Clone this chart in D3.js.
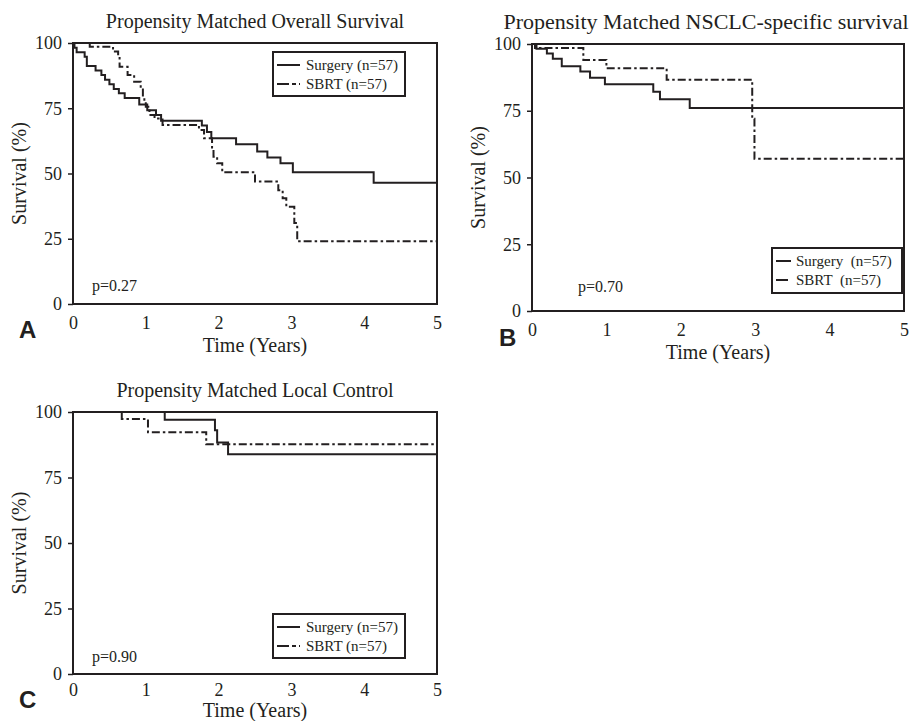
<!DOCTYPE html>
<html>
<head>
<meta charset="utf-8">
<script src="https://cdn.jsdelivr.net/npm/d3@7"></script>
<style>
  body { margin: 0; background: #fff; }
  text { font-family: "Liberation Serif", "Times New Roman", serif; fill: #231f20; }
  .letter { font-family: "Liberation Sans", Arial, sans-serif; font-weight: bold; }
</style>
</head>
<body>
<svg id="chart" width="916" height="721"></svg>
<script>
// tick values
var xTicks = [0, 1, 2, 3, 4, 5];
var yTicks = [0, 25, 50, 75, 100];

// A - overall survival (time in years, survival in %)
var osSurgeryTime = [0.02, 0.05, 0.16, 0.19, 0.31, 0.39, 0.44, 0.50, 0.56, 0.63, 0.71, 0.91, 1.02, 1.14, 1.21, 1.77, 1.84, 1.90, 2.24, 2.53, 2.67, 2.85, 3.02, 4.13];
var osSurgerySurv = [98.2, 96.5, 94.7, 91.2, 89.5, 87.7, 85.9, 84.2, 82.4, 80.7, 78.9, 76.4, 74.2, 72.4, 70.2, 68.4, 65.9, 63.5, 61.2, 58.4, 56.1, 53.9, 50.5, 46.5];
var osSbrtTime = [0.23, 0.55, 0.62, 0.64, 0.75, 0.84, 0.93, 0.96, 0.98, 1.00, 1.05, 1.12, 1.23, 1.73, 1.80, 1.91, 1.93, 1.98, 2.05, 2.50, 2.82, 2.88, 2.93, 3.04, 3.08];
var osSbrtSurv = [98.6, 96.7, 94.8, 90.9, 87.7, 85.2, 82.6, 79.4, 77.9, 75.6, 72.4, 71.1, 68.6, 66.7, 63.5, 59.5, 56.4, 53.9, 50.5, 46.9, 43.6, 40.5, 37.3, 31.0, 24.0];

// B - NSCLC-specific survival
var cssSurgeryTime = [0.06, 0.20, 0.28, 0.40, 0.65, 0.78, 0.98, 1.63, 1.72, 2.12];
var cssSurgerySurv = [98.2, 96.4, 94.5, 91.7, 89.7, 87.4, 84.9, 82.1, 79.3, 76.0];
var cssSbrtTime = [0.04, 0.69, 1.00, 1.81, 2.96, 2.99];
var cssSbrtSurv = [98.5, 94.0, 90.9, 86.6, 72.0, 57.0];

// C - local control
var lcSurgeryTime = [1.26, 1.95, 1.98, 2.13];
var lcSurgerySurv = [97.0, 93.0, 88.4, 83.9];
var lcSbrtTime = [0.67, 1.03, 1.83];
var lcSbrtSurv = [97.3, 92.3, 87.7];

var seriesNames = ["Surgery (n=57)", "SBRT (n=57)"];
var seriesNamesB = ["Surgery\u00a0\u00a0(n=57)", "SBRT\u00a0\u00a0(n=57)"];
var pValues = ["p=0.27", "p=0.70", "p=0.90"];
var titles = ["Propensity Matched Overall Survival", "Propensity Matched NSCLC-specific survival", "Propensity Matched Local Control"];

function toSteps(times, survs) {
  var pts = [[0, 100]];
  times.forEach(function(t, i) { pts.push([t, survs[i]]); });
  pts.push([5, survs[survs.length - 1]]);
  return pts;
}

var panels = [
  {letter: "A", title: titles[0], p: pValues[0], names: seriesNames,
   left: 73, right: 437, top: 43, bottom: 304, tickPad: 12, xlab: 48,
   titleX: 255, titleSize: 20,
   surgery: toSteps(osSurgeryTime, osSurgerySurv), sbrt: toSteps(osSbrtTime, osSbrtSurv),
   legend: {x: 273, y: 52, w: 132, h: 44}, px: 92, py: 291, lx: 19, ly: 338},
  {letter: "B", title: titles[1], p: pValues[1], names: seriesNamesB,
   left: 532, right: 904, top: 44, bottom: 311, tickPad: 12, xlab: 48,
   titleX: 706, titleSize: 22,
   surgery: toSteps(cssSurgeryTime, cssSurgerySurv), sbrt: toSteps(cssSbrtTime, cssSbrtSurv),
   legend: {x: 772, y: 248, w: 130, h: 45}, px: 578, py: 292, lx: 499, ly: 346},
  {letter: "C", title: titles[2], p: pValues[2], names: seriesNames,
   left: 73, right: 437, top: 412, bottom: 674, tickPad: 9, xlab: 43,
   titleX: 255, titleSize: 20,
   surgery: toSteps(lcSurgeryTime, lcSurgerySurv), sbrt: toSteps(lcSbrtTime, lcSbrtSurv),
   legend: {x: 273, y: 614, w: 132, h: 44}, px: 92, py: 662, lx: 19, ly: 708}
];

var svg = d3.select("#chart");
var dash = "8,3,2.5,3";

panels.forEach(function(p) {
  var x = d3.scaleLinear().domain([0, 5]).range([p.left, p.right]);
  var y = d3.scaleLinear().domain([0, 100]).range([p.bottom, p.top]);
  var g = svg.append("g");

  // title
  g.append("text")
    .attr("x", p.titleX).attr("y", p.top - 15)
    .attr("text-anchor", "middle").attr("font-size", p.titleSize)
    .text(p.title);

  // y axis ticks and labels
  var ya = g.append("g").attr("transform", "translate(" + p.left + ",0)")
    .call(d3.axisLeft(y).tickValues(yTicks).tickFormat(d3.format("d")).tickSize(5).tickPadding(6));
  ya.select(".domain").remove();
  ya.selectAll(".tick line").attr("stroke", "#231f20").attr("stroke-width", 1.5);
  ya.selectAll(".tick text").attr("font-size", 18).attr("font-family", "Liberation Serif").attr("fill", "#231f20");

  // x axis labels (no tick marks in the original)
  var xa = g.append("g").attr("transform", "translate(0," + p.bottom + ")")
    .call(d3.axisBottom(x).tickValues(xTicks).tickFormat(d3.format("d")).tickSize(0).tickPadding(p.tickPad));
  xa.select(".domain").remove();
  xa.selectAll(".tick text").attr("font-size", 18).attr("font-family", "Liberation Serif").attr("fill", "#231f20");

  // axis titles
  g.append("text")
    .attr("x", (p.left + p.right) / 2).attr("y", p.bottom + p.xlab)
    .attr("text-anchor", "middle").attr("font-size", 20)
    .text("Time (Years)");
  g.append("text")
    .attr("transform", "translate(" + (p.left - 47) + "," + ((p.top + p.bottom) / 2) + ") rotate(-90)")
    .attr("text-anchor", "middle").attr("font-size", 20)
    .text("Survival (%)");

  // curves
  var line = d3.line().x(function(d) { return x(d[0]); }).y(function(d) { return y(d[1]); })
    .curve(d3.curveStepAfter);
  g.append("path").datum(p.surgery).attr("d", line)
    .attr("fill", "none").attr("stroke", "#231f20").attr("stroke-width", 2);
  g.append("path").datum(p.sbrt).attr("d", line)
    .attr("fill", "none").attr("stroke", "#231f20").attr("stroke-width", 2)
    .attr("stroke-dasharray", dash);

  // frame
  g.append("rect")
    .attr("x", p.left).attr("y", p.top)
    .attr("width", p.right - p.left).attr("height", p.bottom - p.top)
    .attr("fill", "none").attr("stroke", "#231f20").attr("stroke-width", 2);

  // p value
  g.append("text").attr("x", p.px).attr("y", p.py).attr("font-size", 16).text(p.p);

  // legend
  var L = p.legend;
  var lg = g.append("g");
  lg.append("rect").attr("x", L.x).attr("y", L.y).attr("width", L.w).attr("height", L.h)
    .attr("fill", "#fff").attr("stroke", "#231f20").attr("stroke-width", 2);
  [0, 1].forEach(function(i) {
    var cy = L.y + 13 + i * 19;
    lg.append("line")
      .attr("x1", L.x + 4).attr("x2", L.x + (p.letter === "B" ? 19 : 27))
      .attr("y1", cy).attr("y2", cy)
      .attr("stroke", "#231f20").attr("stroke-width", 2)
      .attr("stroke-dasharray", i === 1 ? "12,3,4,3" : null);
    lg.append("text")
      .attr("x", L.x + (p.letter === "B" ? 24 : 33)).attr("y", cy + 5)
      .attr("font-size", 15).text(p.names[i]);
  });

  // panel letter
  g.append("text").attr("class", "letter")
    .attr("x", p.lx).attr("y", p.ly).attr("font-size", 24).text(p.letter);
});
</script>
</body>
</html>
